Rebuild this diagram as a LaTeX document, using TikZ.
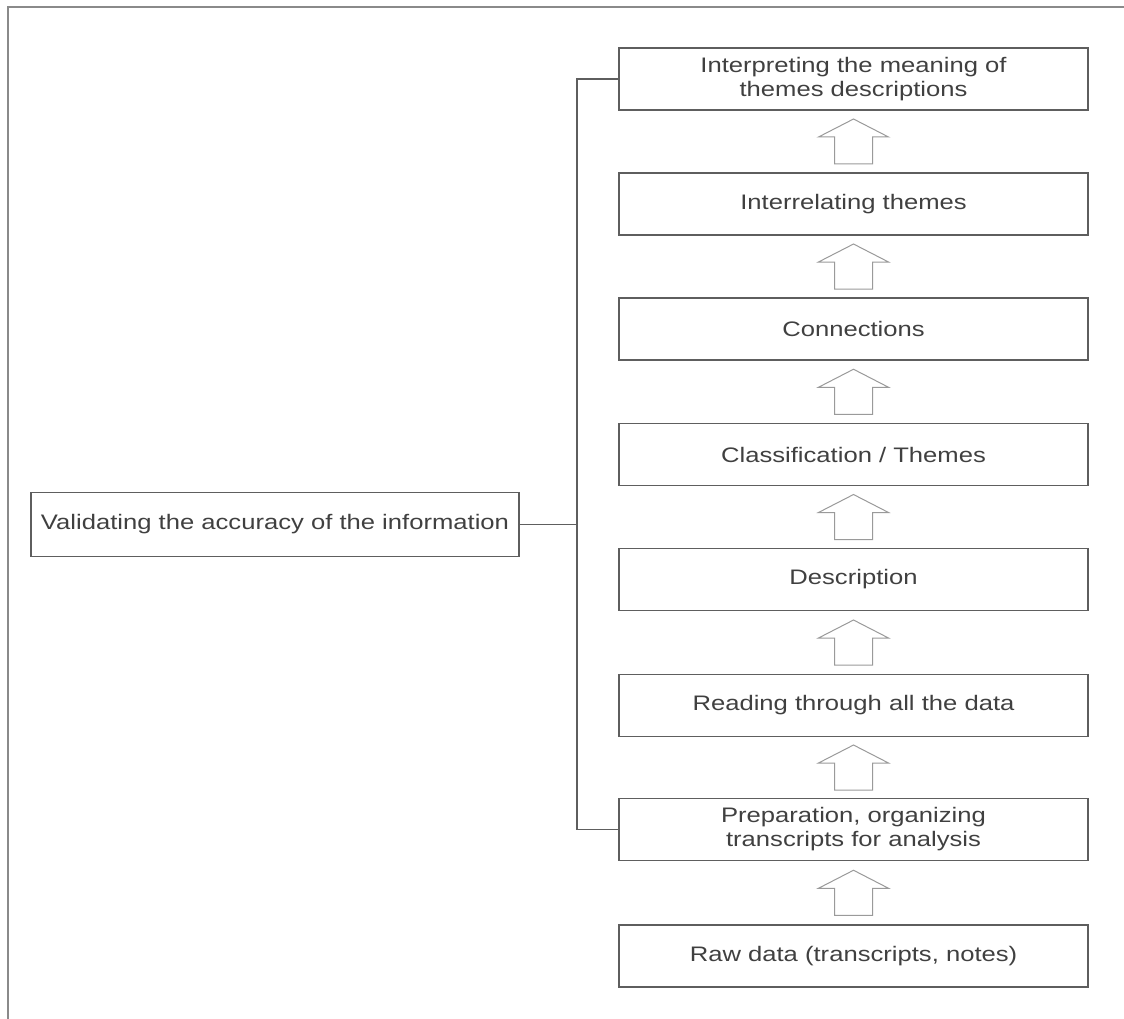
\documentclass[tikz,border=0pt]{standalone}
\usepackage{fontspec}
\setmainfont{Liberation Sans}[FakeStretch=1.22]
\usetikzlibrary{calc}
\definecolor{txtgray}{HTML}{404040}
\definecolor{boxgray}{HTML}{5E5E5E}
\definecolor{arrgray}{HTML}{9A9A9A}
\definecolor{framegray}{HTML}{8A8A8A}
\tikzset{
  stepbox/.style={draw=boxgray, line width=1.5pt, minimum width=469pt, minimum height=62pt,
    inner sep=0pt, align=center, text=txtgray, font=\fontsize{21}{24}\selectfont},
  sidebox/.style={stepbox, minimum width=488pt, minimum height=64pt},
  barrow/.style={draw=arrgray, line width=1pt, fill=white, line join=miter},
  brack/.style={draw=boxgray, line width=1.3pt}
}
\begin{document}
\begin{tikzpicture}[x=1pt,y=-1pt]
\useasboundingbox (0,0) rectangle (1124,1019);
% frame
\draw[framegray, line width=1.5pt] (8,1019) -- (8,7) -- (1124,7);
% step boxes
\node[stepbox] (b1) at (853.5,79) {Interpreting the meaning of\\themes descriptions};
\node[stepbox] (b2) at (853.5,204) {Interrelating themes};
\node[stepbox] (b3) at (853.5,329) {Connections};
\node[stepbox] (b4) at (853.5,454.5) {Classification / Themes};
\node[stepbox] (b5) at (853.5,579.5) {Description};
\node[stepbox] (b6) at (853.5,705.5) {Reading through all the data};
\node[stepbox] (b7) at (853.5,829.5) {Preparation, organizing\\transcripts for analysis};
\node[stepbox] (b8) at (853.5,956) {Raw data (transcripts, notes)};
% side box
\node[sidebox] (v) at (275,524.5) {Validating the accuracy of the information};
% bracket
\coordinate (br) at (577,0);
\draw[brack] (b1.west) -- (b1.west -| br) |- (b7.west);
\draw[brack] (v.east) -- (v.east -| br);
% block arrows
\foreach \lo/\hi in {b8/b7,b7/b6,b6/b5,b5/b4,b4/b3,b3/b2,b2/b1}{
  \draw[barrow] ($(\lo.north)!0.5!(\hi.south)$) ++(-19,22.5) -- ++(38,0) -- ++(0,-27)
    -- ++(16,0) -- ++(-35,-18) -- ++(-35,18) -- ++(16,0) -- cycle;
}
\end{tikzpicture}
\end{document}
